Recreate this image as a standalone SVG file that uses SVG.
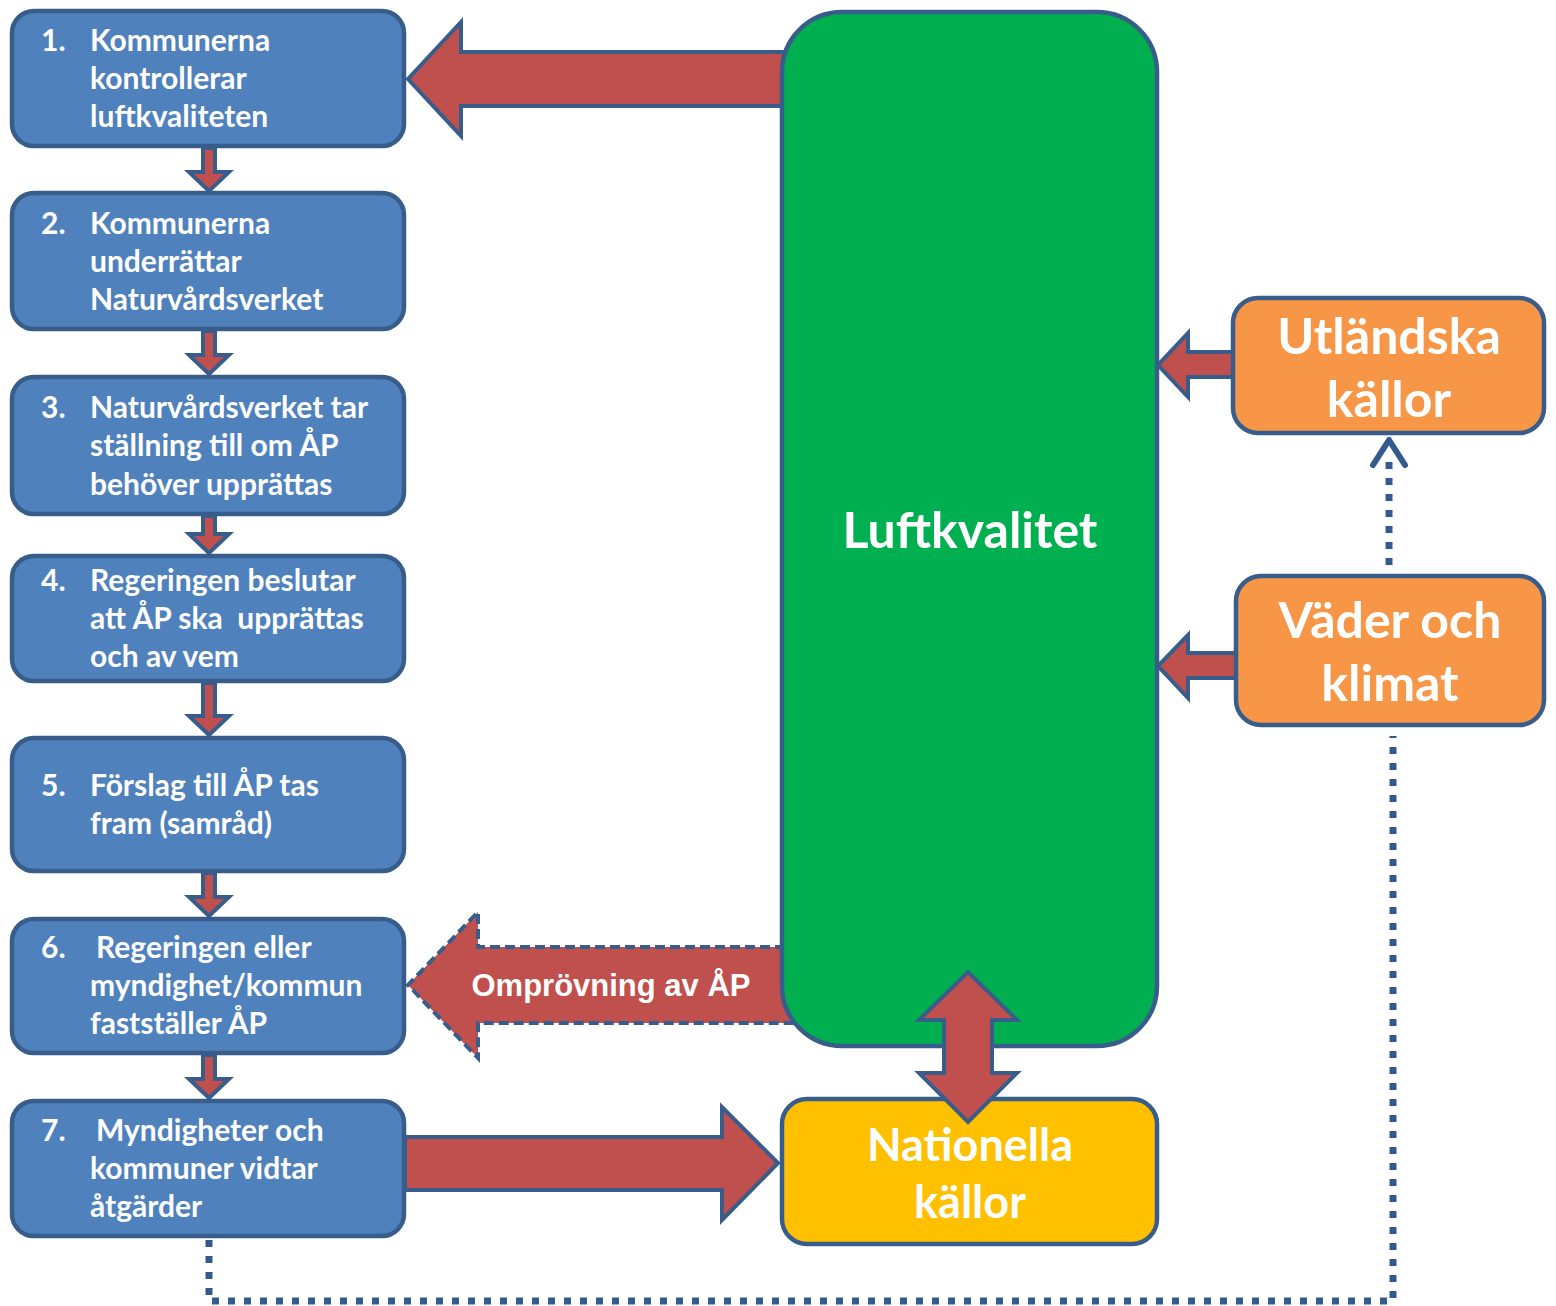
<svg xmlns="http://www.w3.org/2000/svg" width="1556" height="1306" viewBox="0 0 1556 1306">
<style>
.box{fill:#4F81BD;stroke:#385D8A;stroke-width:4.5}
.arr{fill:#C0504D;stroke:#385D8A;stroke-width:4;stroke-linejoin:miter}
.t{font-family:Lato,"Liberation Sans",sans-serif;font-weight:700;font-size:30px;fill:#FFFFFF}
.big{font-family:Lato,"Liberation Sans",sans-serif;font-weight:700;fill:#FFFFFF;text-anchor:middle}
.dot{fill:none;stroke:#335A8C;stroke-width:7;stroke-dasharray:7 9}
</style>
<rect width="1556" height="1306" fill="#FFFFFF"/>
<g id="connectors">
  <polygon class="arr" points="790,52 461,52 461,22 408,79 461,136 461,106 790,106"/>
  <polygon class="arr" points="203,148 215,148 215,172 229,172 209,191 189,172 203,172"/>
  <polygon class="arr" points="203,331 215,331 215,355 229,355 209,374 189,355 203,355"/>
  <polygon class="arr" points="203,516 215,516 215,534 229,534 209,553 189,534 203,534"/>
  <polygon class="arr" points="203,683 215,683 215,716 229,716 209,735 189,716 203,716"/>
  <polygon class="arr" points="203,873 215,873 215,897 229,897 209,916 189,897 203,897"/>
  <polygon class="arr" points="203,1055 215,1055 215,1079 229,1079 209,1098 189,1079 203,1079"/>
  <polygon class="arr" points="405,1137 722,1137 722,1107 778,1163 722,1220 722,1190 405,1190"/>
  <polygon class="arr" points="1234,352 1188,352 1188,333 1158,365 1188,397 1188,377 1234,377"/>
  <polygon class="arr" points="1237,653 1188,653 1188,635 1158,666 1188,698 1188,678 1237,678"/>
  <path class="dot" d="M209,1240 V1301 H1393 V736"/>
  <path class="dot" d="M1389,565 V462"/>
  <polyline points="1373,465 1389,440 1405,465" fill="none" stroke="#335A8C" stroke-width="6" stroke-linecap="round" stroke-linejoin="round"/>
</g>
<g id="n1"><rect class="box" x="12" y="11" width="392" height="135" rx="22"/>
<text class="t" x="41" y="51">1.</text><text class="t" x="90" y="51">Kommunerna</text><text class="t" x="90" y="89">kontrollerar</text><text class="t" x="90" y="127">luftkvaliteten</text></g>
<g id="n2"><rect class="box" x="12" y="193" width="392" height="136" rx="22"/>
<text class="t" x="41" y="234">2.</text><text class="t" x="90" y="234">Kommunerna</text><text class="t" x="90" y="272">underrättar</text><text class="t" x="90" y="310">Naturvårdsverket</text></g>
<g id="n3"><rect class="box" x="12" y="377" width="392" height="137" rx="22"/>
<text class="t" x="41" y="418">3.</text><text class="t" x="90" y="418">Naturvårdsverket tar</text><text class="t" x="90" y="456">ställning till om ÅP</text><text class="t" x="90" y="495">behöver upprättas</text></g>
<g id="n4"><rect class="box" x="12" y="556" width="392" height="125" rx="22"/>
<text class="t" x="41" y="591">4.</text><text class="t" x="90" y="591">Regeringen beslutar</text><text class="t" x="90" y="629" xml:space="preserve">att ÅP ska  upprättas</text><text class="t" x="90" y="667">och av vem</text></g>
<g id="n5"><rect class="box" x="12" y="738" width="392" height="133" rx="22"/>
<text class="t" x="41" y="796">5.</text><text class="t" x="90" y="796">Förslag till ÅP tas</text><text class="t" x="90" y="834">fram (samråd)</text></g>
<g id="n6"><rect class="box" x="12" y="919" width="392" height="134" rx="22"/>
<text class="t" x="41" y="958">6.</text><text class="t" x="96" y="958">Regeringen eller</text><text class="t" x="90" y="996">myndighet/kommun</text><text class="t" x="90" y="1034">fastställer ÅP</text></g>
<g id="n7"><rect class="box" x="12" y="1101" width="392" height="135" rx="22"/>
<text class="t" x="41" y="1141">7.</text><text class="t" x="96" y="1141">Myndigheter och</text><text class="t" x="90" y="1179">kommuner vidtar</text><text class="t" x="90" y="1217">åtgärder</text></g>
<g id="omprovning">
  <polygon points="800,947 478,947 478,912 408,985 478,1058 478,1023 800,1023" fill="#C0504D" stroke="#385D8A" stroke-width="4" stroke-dasharray="10 5"/>
  <text x="611" y="996" font-family="'Liberation Sans',Arial,sans-serif" font-weight="700" font-size="31" fill="#FFFFFF" text-anchor="middle">Omprövning av ÅP</text>
</g>
<g id="luftkvalitet"><rect x="782" y="12" width="375" height="1034" rx="60" fill="#00B050" stroke="#385D8A" stroke-width="4.5"/>
<text class="big" x="970" y="548" font-size="50">Luftkvalitet</text></g>
<g id="nationella"><rect x="782" y="1099" width="375" height="145" rx="25" fill="#FFC000" stroke="#385D8A" stroke-width="4.5"/>
<text class="big" x="970" y="1161" font-size="45">Nationella</text><text class="big" x="970" y="1218" font-size="45">källor</text></g>
<g id="dubbelpil"><polygon class="arr" points="968,972 1017,1020 992,1020 992,1073 1017,1073 968,1122 919,1073 944,1073 944,1020 919,1020"/></g>
<g id="utlandska"><rect x="1233" y="298" width="311" height="135" rx="25" fill="#F79646" stroke="#385D8A" stroke-width="4.5"/>
<text class="big" x="1389" y="354" font-size="50">Utländska</text><text class="big" x="1389" y="417" font-size="50">källor</text></g>
<g id="vader"><rect x="1236" y="576" width="308" height="149" rx="25" fill="#F79646" stroke="#385D8A" stroke-width="4.5"/>
<text class="big" x="1390" y="638" font-size="50">Väder och</text><text class="big" x="1390" y="701" font-size="50">klimat</text></g>
</svg>
